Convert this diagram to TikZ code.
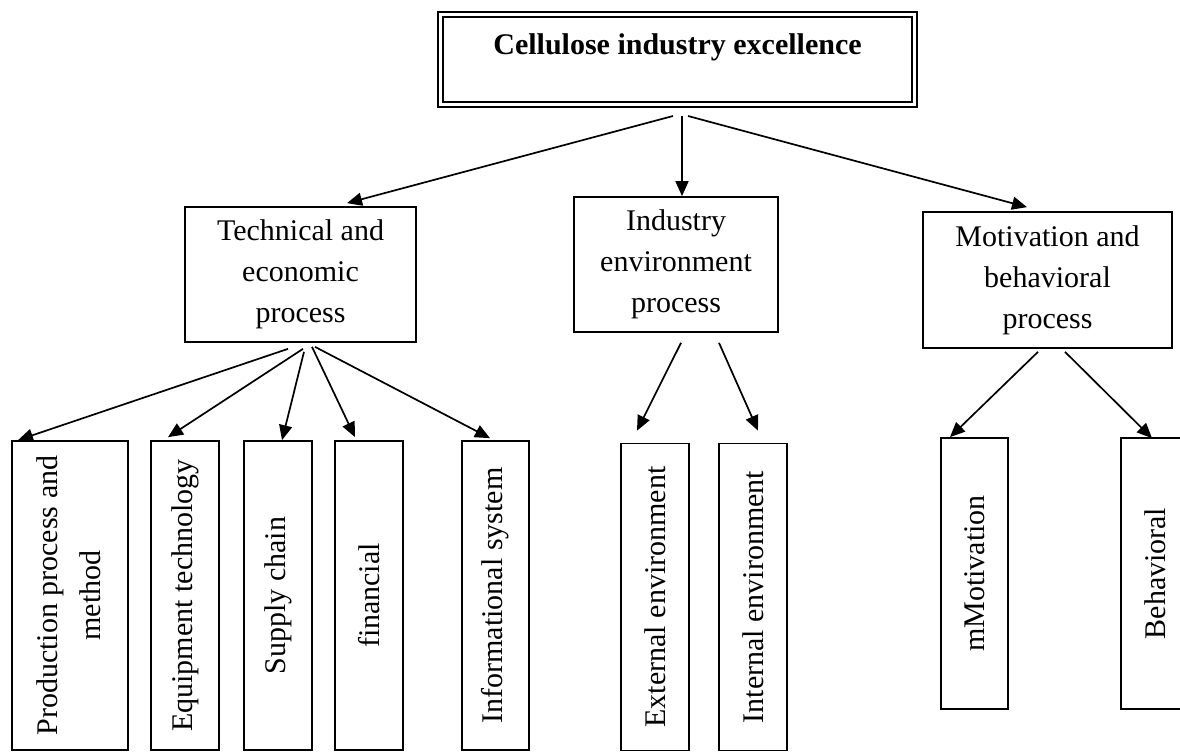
\documentclass[tikz,border=0pt]{standalone}
\usepackage{fontspec}
\setmainfont{Liberation Serif}
\usetikzlibrary{arrows.meta}

\begin{document}
\begin{tikzpicture}[x=1pt,y=-1pt,
    font=\fontsize{30}{41}\selectfont,
    box/.style={draw,line width=1.7pt,align=center,inner sep=0pt},
    arr/.style={line width=1.7pt,-{Triangle[length=15pt,width=13pt]}}]
    \useasboundingbox (0,0) rectangle (1180,752);
    \node[draw,double,line width=2pt,double distance=2.5pt,inner sep=0pt,anchor=base,
        minimum width=474pt,text height=40.5pt,text depth=49.5pt,font=\fontsize{30}{41}\selectfont\bfseries]
        (top) at (677.5,55) {Cellulose industry excellence};
    \node[box,minimum width=231pt,minimum height=135pt] (tech) at (300.5,274.5) {Technical and\\economic\\process};
    \node[box,minimum width=204pt,minimum height=135pt] (ind) at (676,264.5) {Industry\\environment\\process};
    \node[box,minimum width=249pt,minimum height=136pt] (mot) at (1047.5,280) {Motivation and\\behavioral\\process};
    \node[box,minimum width=116pt,minimum height=309pt] (prod) at (70,595.5)
        {\rotatebox{90}{\renewcommand{\arraystretch}{1.05}\begin{tabular}{@{}c@{}}Production process and\\method\end{tabular}}};
    \node[box,minimum width=68pt,minimum height=309pt] (equip) at (185,595.5) {\rotatebox{90}{Equipment technology}};
    \node[box,minimum width=68pt,minimum height=309pt] (supply) at (278,595.5) {\rotatebox{90}{Supply chain}};
    \node[box,minimum width=68pt,minimum height=309pt] (fin) at (369,595.5) {\rotatebox{90}{financial}};
    \node[box,minimum width=67pt,minimum height=309pt] (info) at (495.5,595.5) {\rotatebox{90}{Informational system}};
    \node[box,minimum width=68pt,minimum height=307pt] (ext) at (655,597) {\rotatebox{90}{External environment}};
    \node[box,minimum width=68pt,minimum height=307pt] (int) at (753,597) {\rotatebox{90}{Internal environment}};
    \node[box,minimum width=67pt,minimum height=271pt] (mmot) at (974.5,573.5) {\rotatebox{90}{mMotivation}};
    \node[box,minimum width=68pt,minimum height=271pt] (behav) at (1155,573.5) {\rotatebox{90}{Behavioral}};
    \draw[arr] ([xshift=-4.5pt,yshift=-10.5pt]top.south) -- ([xshift=46.5pt,yshift=3pt]tech.north);
    \draw[arr] ([xshift=4.5pt,yshift=-10.5pt]top.south) -- ([xshift=6pt]ind.north);
    \draw[arr] ([xshift=10.5pt,yshift=-10.5pt]top.south) -- ([xshift=-20.5pt,yshift=4pt]mot.north);
    \draw[arr] ([xshift=-12.5pt,yshift=-6pt]tech.south) -- ([xshift=-52pt]prod.north);
    \draw[arr] ([xshift=2.5pt,yshift=-6pt]tech.south) -- ([xshift=-17pt,yshift=3pt]equip.north);
    \draw[arr] ([xshift=3.5pt,yshift=-9pt]tech.south) -- ([xshift=4pt]supply.north);
    \draw[arr] ([xshift=11.5pt,yshift=-4pt]tech.south) -- ([xshift=-14pt,yshift=3pt]fin.north);
    \draw[arr] ([xshift=14.5pt,yshift=-4pt]tech.south) -- ([xshift=-5.5pt,yshift=2pt]info.north);
    \draw[arr] ([xshift=5pt,yshift=-10pt]ind.south) -- ([xshift=-18pt,yshift=12pt]ext.north);
    \draw[arr] ([xshift=43pt,yshift=-10pt]ind.south) -- ([xshift=5pt,yshift=12pt]int.north);
    \draw[arr] ([xshift=-9.5pt,yshift=-3pt]mot.south) -- ([xshift=-24.5pt]mmot.north);
    \draw[arr] ([xshift=17.5pt,yshift=-3pt]mot.south) -- ([xshift=-3pt,yshift=-1pt]behav.north);
\end{tikzpicture}
\end{document}
